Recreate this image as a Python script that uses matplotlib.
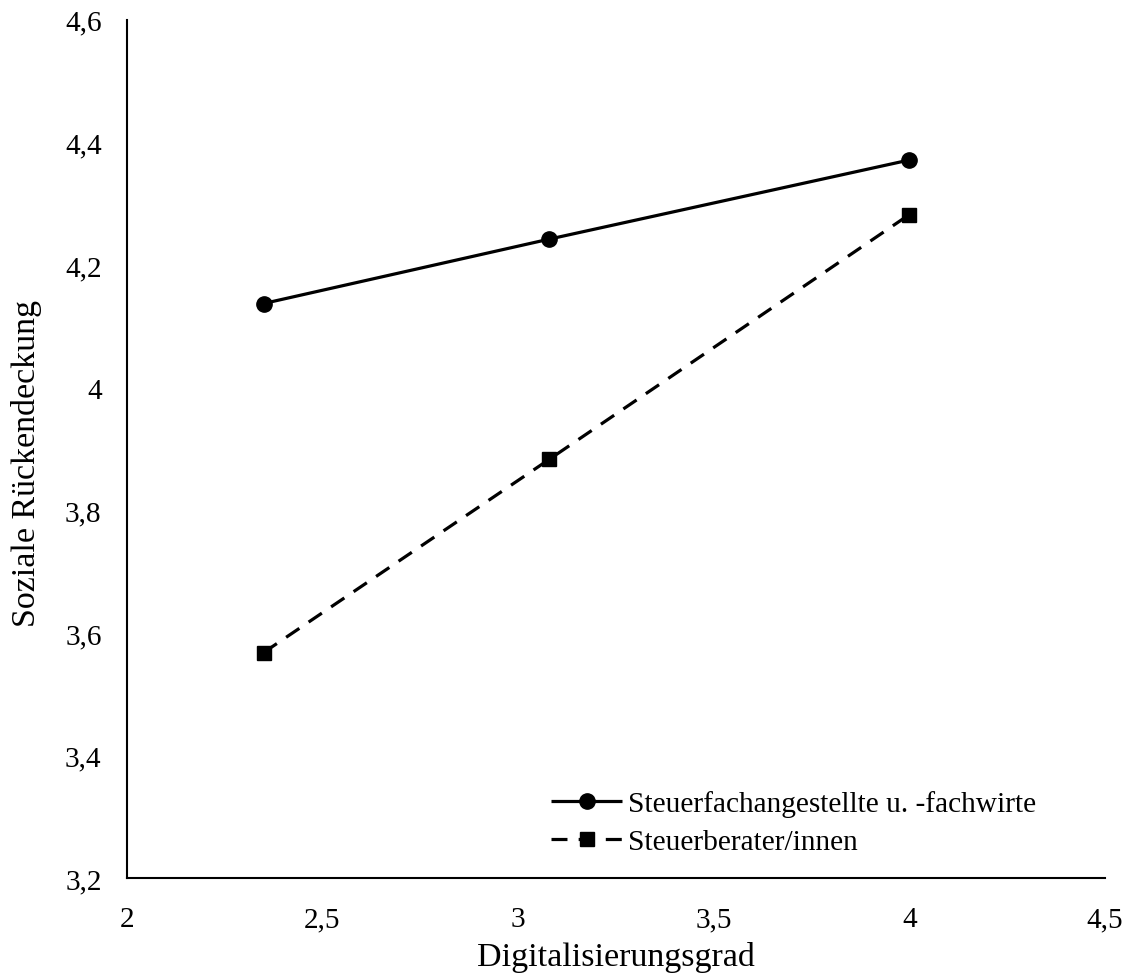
import matplotlib
matplotlib.use("Agg")
import matplotlib.pyplot as plt

x_vals = [2.35, 3.08, 4.0]
y_fach = [4.137, 4.242, 4.371]
y_berater = [3.568, 3.883, 4.282]
label_fach = "Steuerfachangestellte u. -fachwirte"
label_berater = "Steuerberater/innen"
x_ticks = [2, 2.5, 3, 3.5, 4, 4.5]
x_ticklabels = ["2", "2,5", "3", "3,5", "4", "4,5"]
y_ticks = [3.2, 3.4, 3.6, 3.8, 4.0, 4.2, 4.4, 4.6]
y_ticklabels = ["3,2", "3,4", "3,6", "3,8", "4", "4,2", "4,4", "4,6"]

plt.rcParams['font.family'] = ['Liberation Serif', 'DejaVu Serif']
fs = 21.2

fig = plt.figure(figsize=(11.31, 9.78), dpi=100)
ax = fig.add_axes([0.112, 0.101, 0.865, 0.878])

ax.plot(x_vals, y_fach, color='black', lw=2.3, marker='o', ms=11,
        label=label_fach, solid_capstyle='butt')
ax.plot(x_vals, y_berater, color='black', lw=2.3, marker='s', ms=10,
        linestyle=(0, (5, 3.5)), label=label_berater)

ax.set_xlim(2, 4.5)
ax.set_ylim(3.2, 4.6)
ax.set_xticks(x_ticks)
ax.set_xticklabels(x_ticklabels, fontsize=fs)
ax.set_yticks(y_ticks)
ax.set_yticklabels(y_ticklabels, fontsize=fs)
ax.tick_params(length=0)
ax.tick_params(axis='x', pad=20)
ax.tick_params(axis='y', pad=18)

for s in ['top', 'right']:
    ax.spines[s].set_visible(False)
for s in ['left', 'bottom']:
    ax.spines[s].set_linewidth(1.5)

ax.set_xlabel("Digitalisierungsgrad", fontsize=24.5, va='center')
ax.xaxis.set_label_coords(0.5, (879 - 957) / 858.3)
ax.set_ylabel("Soziale Rückendeckung", fontsize=24.5, va='center')
ax.yaxis.set_label_coords((27 - 126.7) / 978.3, 0.4847)

leg = ax.legend(loc='lower left', bbox_to_anchor=(0.422, 0.0135), frameon=False,
                fontsize=fs, handlelength=2.4, handletextpad=0.2,
                labelspacing=0.37, borderaxespad=0)

fig.savefig("out.png", dpi=100)
